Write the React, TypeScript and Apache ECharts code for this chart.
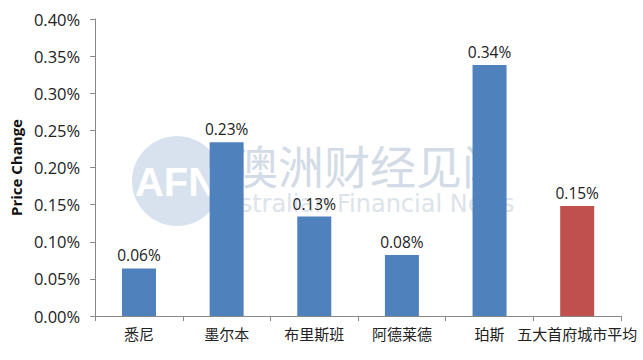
import React, { useEffect, useRef } from "react";
import * as echarts from "echarts";

const categories = ["悉尼", "墨尔本", "布里斯班", "阿德莱德", "珀斯", "五大首府城市平均"];
const priceChange = [0.064, 0.234, 0.134, 0.082, 0.338, 0.148];
const barColors = ["#4F81BD", "#4F81BD", "#4F81BD", "#4F81BD", "#4F81BD", "#C0504D"];
const yTickStep = 0.05;
const yMax = 0.4;

export default function App() {
  const ref = useRef<HTMLDivElement>(null);
  useEffect(() => {
    if (!ref.current) return;
    const chart = echarts.init(ref.current, null, { renderer: "svg" });
    const axisColor = "#888888";
    chart.setOption({
      animation: false,
      backgroundColor: "#ffffff",
      grid: { left: 87, right: 22, top: 19, bottom: 44, containLabel: false },
      graphic: [
        { type: "circle", z: 0, shape: { cx: 177, cy: 181, r: 45 }, style: { fill: "#d7e2ee" } },
        {
          type: "text", z: 0, x: 176, y: 182,
          style: { text: "AFN", fill: "#ffffff", font: "bold 40px 'Liberation Sans', Arial", align: "center", verticalAlign: "middle" },
        },
        {
          type: "text", z: 0, x: 232, y: 164,
          style: { text: "澳洲财经见闻", fill: "#d3dce6", font: "46px 'Noto Sans CJK SC'", align: "left", verticalAlign: "middle" },
        },
        {
          type: "text", z: 0, x: 208, y: 204,
          style: { text: "Australian Financial News", fill: "#dde3ea", font: "24px 'DejaVu Sans'", align: "left", verticalAlign: "middle" },
        },
      ],
      xAxis: {
        type: "category",
        data: categories,
        axisLine: { lineStyle: { color: axisColor } },
        axisTick: { show: true, alignWithLabel: false, length: 5, lineStyle: { color: axisColor } },
        axisLabel: { color: "#222222", fontSize: 15, margin: 10, fontFamily: "'Noto Sans CJK SC'", interval: 0 },
      },
      yAxis: {
        type: "value",
        min: 0,
        max: yMax,
        interval: yTickStep,
        name: "Price Change",
        nameLocation: "middle",
        nameRotate: 90,
        nameGap: 71,
        nameTextStyle: { fontSize: 15, fontWeight: "bold", color: "#111111", fontFamily: "'Open Sans'" },
        axisLine: { show: true, lineStyle: { color: axisColor } },
        axisTick: { show: true, length: 5, lineStyle: { color: axisColor } },
        splitLine: { show: false },
        axisLabel: {
          color: "#222222", fontSize: 16.5, fontFamily: "'Open Sans'", margin: 15,
          formatter: (v: number) => v.toFixed(2) + "%",
        },
      },
      series: [
        {
          type: "bar",
          z: 2,
          barWidth: 34,
          data: priceChange.map((v, i) => ({ value: v, itemStyle: { color: barColors[i] } })),
          label: {
            show: true,
            position: "top",
            distance: 5,
            color: "#222222",
            fontSize: 15.5,
            fontFamily: "'Open Sans'",
            formatter: (p: any) => (p.value as number).toFixed(2) + "%",
          },
        },
      ],
    });
    return () => chart.dispose();
  }, []);
  return <div ref={ref} style={{ width: 643, height: 360, position: "absolute", left: 0, top: 0 }} />;
}
